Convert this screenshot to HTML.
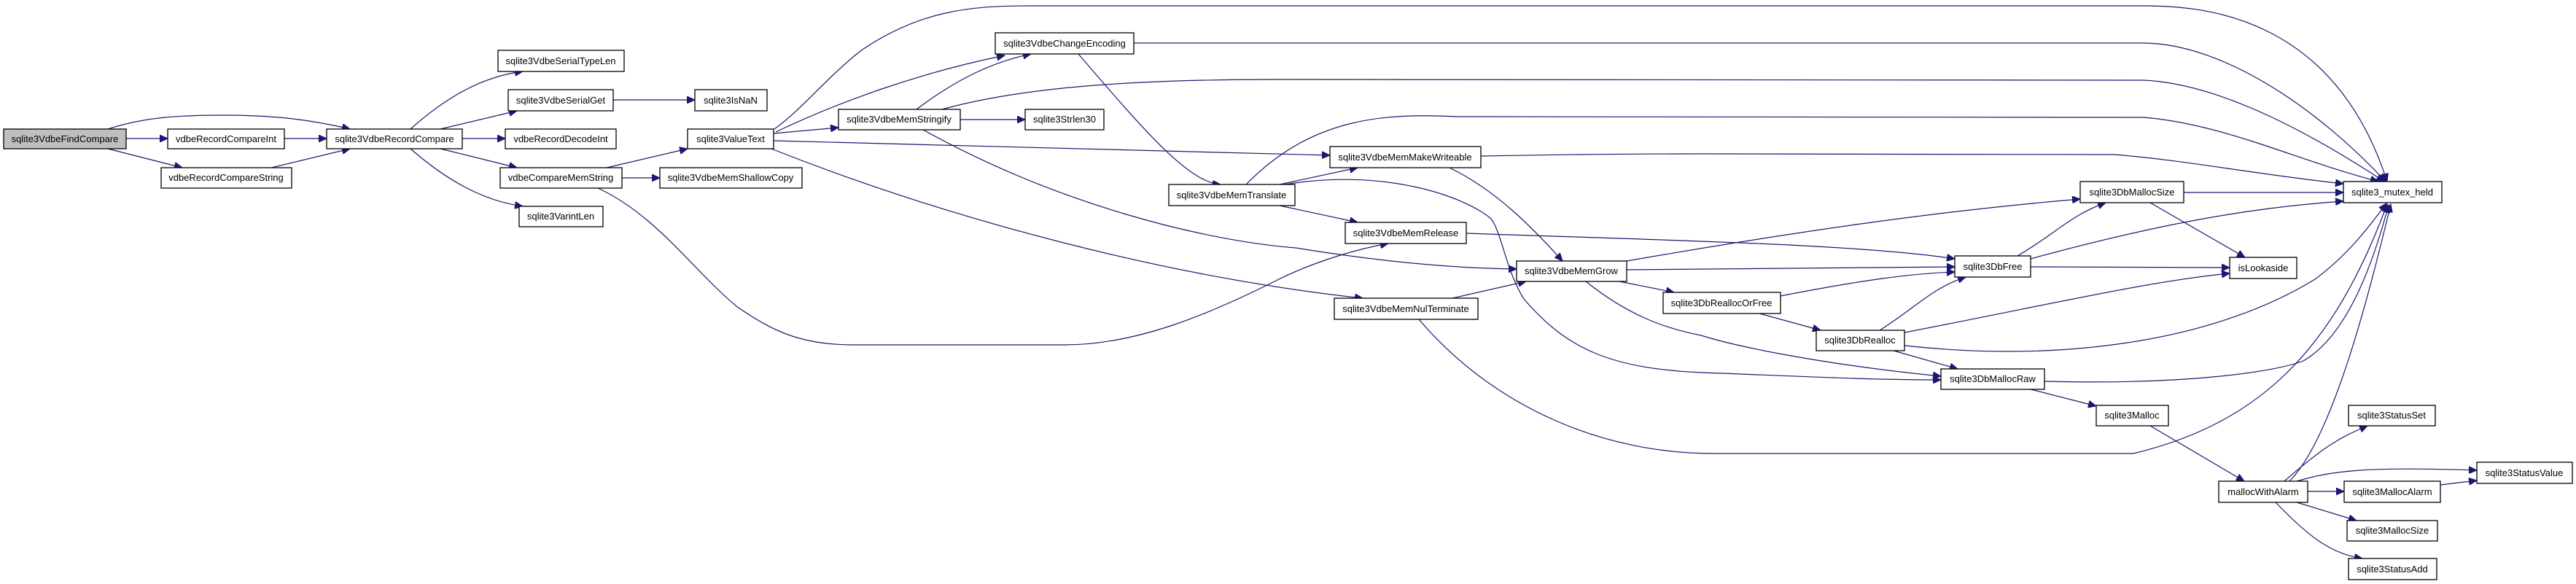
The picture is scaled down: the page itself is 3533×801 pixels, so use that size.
<!DOCTYPE html>
<html><head><meta charset="utf-8"><style>
html,body{margin:0;padding:0;background:#fff;}
svg{display:block;}
text{font-family:"Liberation Sans",Arial,sans-serif;font-size:13px;fill:#000;}
.e{fill:none;stroke:#191970;stroke-width:1.2;marker-end:url(#a);}
.n{fill:#fff;stroke:#000;stroke-width:1.3;}
</style></head><body>
<svg width="3533" height="801" viewBox="0 0 3533 801" xmlns="http://www.w3.org/2000/svg">
<defs><marker id="a" markerUnits="userSpaceOnUse" markerWidth="12" markerHeight="10" refX="11" refY="5" orient="auto"><path d="M0,0 L11,5 L0,10 z" fill="#191970" stroke="#191970"/></marker></defs>
<g>
<path class="e" d="M173,190 L230,190"/>
<path class="e" d="M148,177 C200,160 250,158 306,158 C380,158 430,165 480,177"/>
<path class="e" d="M148,204 L250,230"/>
<path class="e" d="M390,190 L448,190"/>
<path class="e" d="M372,230 L480,204"/>
<path class="e" d="M563,177 C610,135 660,105 717,98"/>
<path class="e" d="M604,177 L709,152"/>
<path class="e" d="M634,190 L693,190"/>
<path class="e" d="M604,204 L709,230"/>
<path class="e" d="M563,204 C610,245 660,275 717,283"/>
<path class="e" d="M841,137 L953,137"/>
<path class="e" d="M832,230 L943,204"/>
<path class="e" d="M853,244 L905,244"/>
<path class="e" d="M820,258 C900,295 950,370 1010,420 C1060,455 1100,473 1170,473 L1460,473 C1560,473 1660,430 1750,385 C1810,355 1870,340 1904,334"/>
<path class="e" d="M1062,177 C1100,150 1130,110 1180,70 C1260,15 1330,8 1410,8 L2940,8 C3020,8 3200,20 3274,249"/>
<path class="e" d="M1064,181 C1150,140 1260,100 1378,76"/>
<path class="e" d="M1061,183 L1150,175"/>
<path class="e" d="M1061,193 L1824,213"/>
<path class="e" d="M1058,204 C1300,300 1600,380 1869,409"/>
<path class="e" d="M1257,150 C1310,110 1360,85 1414,74"/>
<path class="e" d="M1292,150 C1400,120 1550,109 1750,109 L2940,110 C3050,115 3180,190 3270,249"/>
<path class="e" d="M1317,164 L1406,164"/>
<path class="e" d="M1266,178 C1450,280 1650,330 1777,340 C1900,360 2000,368 2080,369"/>
<path class="e" d="M1555,59 L2940,59 C3050,60 3180,150 3272,249"/>
<path class="e" d="M1479,74 C1570,180 1630,250 1674,253"/>
<path class="e" d="M1709,253 C1800,160 1900,155 2000,160 L2940,161 C3050,170 3150,220 3262,249"/>
<path class="e" d="M1755,253 L1862,230"/>
<path class="e" d="M1755,282 L1862,305"/>
<path class="e" d="M1762,253 C1900,230 2010,270 2045,300 C2060,320 2065,370 2090,410 C2150,480 2210,505 2333,511 C2450,515 2550,521 2662,521"/>
<path class="e" d="M2031,214 C2200,211 2333,211 2333,211 L2900,212 C3000,220 3100,240 3214,252"/>
<path class="e" d="M1988,230 C2050,260 2100,310 2143,358"/>
<path class="e" d="M2011,320 C2300,330 2550,335 2681,355"/>
<path class="e" d="M1992,409 L2093,386"/>
<path class="e" d="M1946,438 C2050,560 2200,622 2350,622 L2926,622 C3100,580 3200,480 3274,280"/>
<path class="e" d="M2231,358 C2450,320 2650,290 2853,273"/>
<path class="e" d="M2231,370 L2681,366"/>
<path class="e" d="M2221,386 L2296,401"/>
<path class="e" d="M2175,386 C2230,430 2280,450 2333,460 C2380,475 2500,500 2662,516"/>
<path class="e" d="M2442,406 C2550,385 2620,375 2681,373"/>
<path class="e" d="M2413,430 L2497,453"/>
<path class="e" d="M2578,453 C2630,420 2650,395 2696,380"/>
<path class="e" d="M2612,456 C2800,420 2950,385 3058,375"/>
<path class="e" d="M2612,474 C2850,500 3050,460 3175,383 C3220,350 3250,310 3273,279"/>
<path class="e" d="M2597,481 L2685,506"/>
<path class="e" d="M2767,351 C2820,320 2840,295 2888,278"/>
<path class="e" d="M2785,355 C2950,310 3080,285 3214,276"/>
<path class="e" d="M2785,366 L3058,367"/>
<path class="e" d="M2995,264 L3214,264"/>
<path class="e" d="M2949,278 L3079,353"/>
<path class="e" d="M2804,523 C3000,528 3120,510 3159,495 C3220,460 3255,360 3276,281"/>
<path class="e" d="M2785,534 L2875,557"/>
<path class="e" d="M2949,584 L3078,660"/>
<path class="e" d="M3140,660 C3200,600 3250,400 3279,280"/>
<path class="e" d="M3133,660 C3190,610 3210,600 3247,584"/>
<path class="e" d="M3150,660 C3200,645 3250,640 3397,645"/>
<path class="e" d="M3165,674 L3215,674"/>
<path class="e" d="M3347,665 L3397,659"/>
<path class="e" d="M3150,689 L3232,714"/>
<path class="e" d="M3121,689 C3170,740 3200,760 3240,766"/>
</g>
<g>
<rect x="5" y="177" width="168" height="27" fill="#bfbfbf" stroke="#000" stroke-width="1.3"/><text x="89" y="195" text-anchor="middle">sqlite3VdbeFindCompare</text>
<rect class="n" x="230" y="177" width="160" height="27"/><text x="310" y="195" text-anchor="middle">vdbeRecordCompareInt</text>
<rect class="n" x="221" y="230" width="179" height="28"/><text x="310" y="248" text-anchor="middle">vdbeRecordCompareString</text>
<rect class="n" x="448" y="177" width="186" height="27"/><text x="541" y="195" text-anchor="middle">sqlite3VdbeRecordCompare</text>
<rect class="n" x="683" y="69" width="173" height="29"/><text x="769" y="88" text-anchor="middle">sqlite3VdbeSerialTypeLen</text>
<rect class="n" x="697" y="123" width="144" height="29"/><text x="769" y="142" text-anchor="middle">sqlite3VdbeSerialGet</text>
<rect class="n" x="953" y="123" width="99" height="29"/><text x="1002" y="142" text-anchor="middle">sqlite3IsNaN</text>
<rect class="n" x="693" y="177" width="152" height="27"/><text x="769" y="195" text-anchor="middle">vdbeRecordDecodeInt</text>
<rect class="n" x="686" y="230" width="167" height="28"/><text x="769" y="248" text-anchor="middle">vdbeCompareMemString</text>
<rect class="n" x="905" y="230" width="195" height="28"/><text x="1002" y="248" text-anchor="middle">sqlite3VdbeMemShallowCopy</text>
<rect class="n" x="712" y="283" width="115" height="28"/><text x="769" y="301" text-anchor="middle">sqlite3VarintLen</text>
<rect class="n" x="943" y="177" width="118" height="27"/><text x="1002" y="195" text-anchor="middle">sqlite3ValueText</text>
<rect class="n" x="1150" y="150" width="167" height="28"/><text x="1233" y="168" text-anchor="middle">sqlite3VdbeMemStringify</text>
<rect class="n" x="1365" y="45" width="190" height="29"/><text x="1460" y="64" text-anchor="middle">sqlite3VdbeChangeEncoding</text>
<rect class="n" x="1406" y="150" width="108" height="28"/><text x="1460" y="168" text-anchor="middle">sqlite3Strlen30</text>
<rect class="n" x="1824" y="201" width="207" height="29"/><text x="1927" y="220" text-anchor="middle">sqlite3VdbeMemMakeWriteable</text>
<rect class="n" x="1603" y="253" width="173" height="29"/><text x="1689" y="272" text-anchor="middle">sqlite3VdbeMemTranslate</text>
<rect class="n" x="1845" y="305" width="166" height="29"/><text x="1928" y="324" text-anchor="middle">sqlite3VdbeMemRelease</text>
<rect class="n" x="2080" y="358" width="151" height="28"/><text x="2155" y="376" text-anchor="middle">sqlite3VdbeMemGrow</text>
<rect class="n" x="1830" y="409" width="197" height="29"/><text x="1928" y="428" text-anchor="middle">sqlite3VdbeMemNulTerminate</text>
<rect class="n" x="2281" y="401" width="161" height="29"/><text x="2361" y="420" text-anchor="middle">sqlite3DbReallocOrFree</text>
<rect class="n" x="2853" y="249" width="142" height="29"/><text x="2924" y="268" text-anchor="middle">sqlite3DbMallocSize</text>
<rect class="n" x="3214" y="249" width="135" height="29"/><text x="3281" y="268" text-anchor="middle">sqlite3_mutex_held</text>
<rect class="n" x="2681" y="351" width="104" height="29"/><text x="2733" y="370" text-anchor="middle">sqlite3DbFree</text>
<rect class="n" x="3058" y="353" width="92" height="29"/><text x="3104" y="372" text-anchor="middle">isLookaside</text>
<rect class="n" x="2491" y="453" width="121" height="28"/><text x="2551" y="471" text-anchor="middle">sqlite3DbRealloc</text>
<rect class="n" x="2662" y="506" width="142" height="28"/><text x="2733" y="524" text-anchor="middle">sqlite3DbMallocRaw</text>
<rect class="n" x="2875" y="556" width="99" height="28"/><text x="2924" y="574" text-anchor="middle">sqlite3Malloc</text>
<rect class="n" x="3221" y="556" width="119" height="28"/><text x="3280" y="574" text-anchor="middle">sqlite3StatusSet</text>
<rect class="n" x="3397" y="634" width="131" height="29"/><text x="3462" y="653" text-anchor="middle">sqlite3StatusValue</text>
<rect class="n" x="3043" y="660" width="122" height="29"/><text x="3104" y="679" text-anchor="middle">mallocWithAlarm</text>
<rect class="n" x="3215" y="660" width="132" height="29"/><text x="3281" y="679" text-anchor="middle">sqlite3MallocAlarm</text>
<rect class="n" x="3219" y="714" width="124" height="28"/><text x="3281" y="732" text-anchor="middle">sqlite3MallocSize</text>
<rect class="n" x="3221" y="766" width="121" height="29"/><text x="3281" y="785" text-anchor="middle">sqlite3StatusAdd</text>
</g>
</svg>
</body></html>
